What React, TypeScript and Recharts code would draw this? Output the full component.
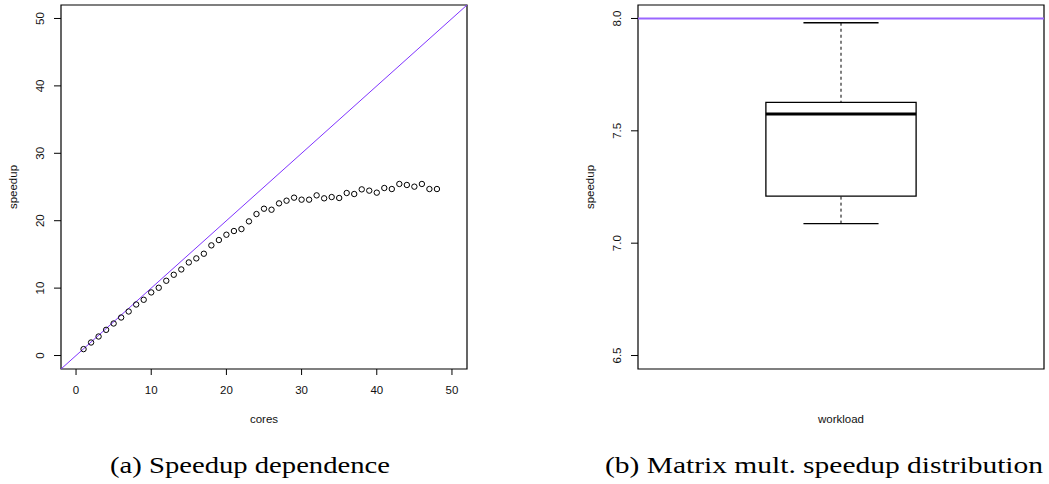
import {
  ScatterChart,
  ComposedChart,
  Scatter,
  XAxis,
  YAxis,
  ReferenceLine,
  ReferenceArea,
} from "recharts";

// (a) measured speedup per number of cores
const cores = [
  1, 2, 3, 4, 5, 6, 7, 8, 9, 10, 11, 12, 13, 14, 15, 16, 17, 18, 19, 20, 21, 22, 23, 24,
  25, 26, 27, 28, 29, 30, 31, 32, 33, 34, 35, 36, 37, 38, 39, 40, 41, 42, 43, 44, 45, 46, 47, 48,
];
const speedup = [
  0.95, 1.93, 2.82, 3.81, 4.75, 5.64, 6.53, 7.57, 8.27, 9.36, 10.05, 11.09, 11.98, 12.77,
  13.81, 14.41, 15.1, 16.34, 17.13, 17.92, 18.47, 18.76, 19.9, 20.99, 21.78, 21.63, 22.57,
  22.97, 23.42, 23.12, 23.12, 23.76, 23.32, 23.51, 23.37, 24.11, 23.96, 24.65, 24.46, 24.16,
  24.85, 24.7, 25.45, 25.3, 25.05, 25.45, 24.7, 24.7,
];
const coreTicks = [0, 10, 20, 30, 40, 50];
const speedupTicks = [0, 10, 20, 30, 40, 50];

// (b) matrix multiplication speedup: boxplot statistics
const boxLabels = ["lower whisker", "q1", "median", "q3", "upper whisker"];
const boxValues = [7.087, 7.209, 7.575, 7.627, 7.981];
const workloadTicks = [6.5, 7.0, 7.5, 8.0];
const idealSpeedup = [8];

const scatterData = cores.map((c, i) => ({ cores: c, speedup: speedup[i] }));
const box = Object.fromEntries(boxLabels.map((k, i) => [k, boxValues[i]]));

const SANS = "'Liberation Sans', Arial, sans-serif";
const SERIF = "'Liberation Serif', 'Times New Roman', serif";
const INK = "#111";
const VIOLET = "#7f33ff";

function XTick(props: any) {
  const { x, y, payload } = props;
  return (
    <text x={x} y={y} textAnchor="middle" dominantBaseline="central" fontSize={11.5} fontFamily={SANS} fill={INK}>
      {payload.value}
    </text>
  );
}

function YTick(props: any) {
  const { x, y, payload, digits } = props;
  const label = digits ? Number(payload.value).toFixed(digits) : payload.value;
  return (
    <text
      x={x}
      y={y}
      transform={`rotate(-90 ${x} ${y})`}
      textAnchor="middle"
      dominantBaseline="central"
      fontSize={11.5}
      fontFamily={SANS}
      fill={INK}
    >
      {label}
    </text>
  );
}

const xTitle = (text: string) => (p: any) => {
  const vb = p.viewBox;
  return (
    <text x={vb.x + vb.width / 2} y={vb.y + 50} textAnchor="middle" dominantBaseline="central" fontSize={11.5} fontFamily={SANS} fill={INK}>
      {text}
    </text>
  );
};

const yTitle = (text: string, cx: number) => (p: any) => {
  const vb = p.viewBox;
  const y = vb.y + vb.height / 2;
  return (
    <text x={cx} y={y} transform={`rotate(-90 ${cx} ${y})`} textAnchor="middle" dominantBaseline="central" fontSize={11.5} fontFamily={SANS} fill={INK}>
      {text}
    </text>
  );
};

const OpenCircle = (p: any) => <circle cx={p.cx} cy={p.cy} r={2.7} fill="none" stroke="#000" strokeWidth={1} />;

function SpeedupPlot() {
  return (
    <ScatterChart width={480} height={440} margin={{ top: 5, right: 13, bottom: 11, left: 0 }}>
      <XAxis
        type="number"
        dataKey="cores"
        domain={[-2, 52]}
        ticks={coreTicks}
        allowDataOverflow
        axisLine={false}
        tickLine={{ stroke: "#000" }}
        tickSize={6}
        tickMargin={15}
        height={60}
        tick={<XTick />}
        label={{ content: xTitle("cores") }}
      />
      <YAxis
        type="number"
        dataKey="speedup"
        domain={[-2, 52]}
        ticks={speedupTicks}
        allowDataOverflow
        axisLine={false}
        tickLine={{ stroke: "#000" }}
        tickSize={7}
        tickMargin={14}
        width={61}
        tick={<YTick />}
        label={{ content: yTitle("speedup", 13) }}
      />
      <ReferenceLine
        segment={[
          { x: -2, y: -2 },
          { x: 52, y: 52 },
        ]}
        stroke={VIOLET}
        strokeWidth={1}
        ifOverflow="visible"
      />
      <Scatter data={scatterData} shape={OpenCircle} isAnimationActive={false} />
      <ReferenceArea x1={-2} x2={52} y1={-2} y2={52} fill="none" stroke="#000" strokeWidth={1.2} ifOverflow="visible" />
    </ScatterChart>
  );
}

const BOX_HALF = 0.185;
const CAP_HALF = BOX_HALF / 2;

function BoxPlot() {
  const seg = (x1: number, y1: number, x2: number, y2: number) => [
    { x: x1, y: y1 },
    { x: x2, y: y2 },
  ];
  return (
    <ComposedChart width={489} height={440} data={[{ x: 1 }]} margin={{ top: 5, right: 5, bottom: 11, left: 0 }}>
      <XAxis
        type="number"
        dataKey="x"
        domain={[0.5, 1.5]}
        allowDataOverflow
        axisLine={false}
        tickLine={false}
        tick={false}
        height={60}
        label={{ content: xTitle("workload") }}
      />
      <YAxis
        type="number"
        domain={[6.44, 8.06]}
        ticks={workloadTicks}
        allowDataOverflow
        axisLine={false}
        tickLine={{ stroke: "#000" }}
        tickSize={7}
        tickMargin={14}
        width={78}
        tick={<YTick digits={1} />}
        label={{ content: yTitle("speedup", 30) }}
      />
      {idealSpeedup.map((v) => (
        <ReferenceLine key={v} y={v} stroke="#9a66ff" strokeWidth={2} />
      ))}
      <ReferenceLine
        segment={seg(1, box["upper whisker"], 1, box["q3"])}
        stroke="#000"
        strokeWidth={1}
        strokeDasharray="3 3"
      />
      <ReferenceLine
        segment={seg(1, box["lower whisker"], 1, box["q1"])}
        stroke="#000"
        strokeWidth={1}
        strokeDasharray="3 3"
      />
      <ReferenceLine segment={seg(1 - CAP_HALF, box["upper whisker"], 1 + CAP_HALF, box["upper whisker"])} stroke="#000" strokeWidth={1.3} />
      <ReferenceLine segment={seg(1 - CAP_HALF, box["lower whisker"], 1 + CAP_HALF, box["lower whisker"])} stroke="#000" strokeWidth={1.3} />
      <ReferenceArea
        x1={1 - BOX_HALF}
        x2={1 + BOX_HALF}
        y1={box["q1"]}
        y2={box["q3"]}
        fill="#fff"
        fillOpacity={1}
        stroke="#000"
        strokeWidth={1.3}
      />
      <ReferenceLine segment={seg(1 - BOX_HALF, box["median"], 1 + BOX_HALF, box["median"])} stroke="#000" strokeWidth={2.8} />
      <ReferenceArea x1={0.5} x2={1.5} y1={6.44} y2={8.06} fill="none" stroke="#000" strokeWidth={1.2} ifOverflow="visible" />
    </ComposedChart>
  );
}

export default function App() {
  return (
    <div style={{ position: "absolute", left: 0, top: 0, width: 1049, height: 484, background: "#fff" }}>
      <div style={{ position: "absolute", left: 0, top: 0 }}>
        <SpeedupPlot />
      </div>
      <div style={{ position: "absolute", left: 560, top: 0 }}>
        <BoxPlot />
      </div>
      <svg width={1049} height={54} style={{ position: "absolute", left: 0, top: 430 }}>
        <text x={110} y={43} fontSize={24} fontFamily={SERIF} fill="#000" textLength={280} lengthAdjust="spacingAndGlyphs">
          (a) Speedup dependence
        </text>
        <text x={605} y={43} fontSize={24} fontFamily={SERIF} fill="#000" textLength={438} lengthAdjust="spacingAndGlyphs">
          (b) Matrix mult. speedup distribution
        </text>
      </svg>
    </div>
  );
}
